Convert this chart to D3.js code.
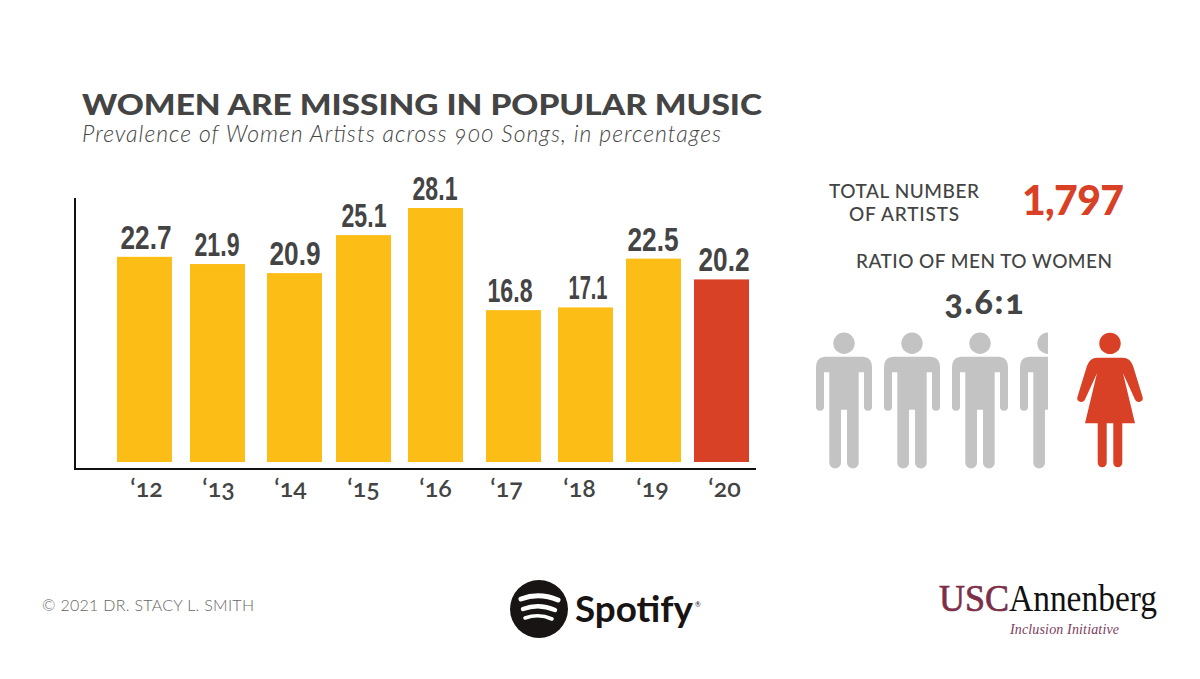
<!DOCTYPE html>
<html>
<head>
<meta charset="utf-8">
<script src="https://cdn.jsdelivr.net/npm/d3@7"></script>
<style>
html, body { margin: 0; padding: 0; background: #fff; }
svg { display: block; }
text { font-family: Lato, "Open Sans", sans-serif; fill: #444; }
.tick text { font-size: 25px; font-weight: 600; font-feature-settings: "onum"; }
</style>
</head>
<body>
<svg width="1200" height="679"></svg>
<script>
// Chart data
var years = ['12', '13', '14', '15', '16', '17', '18', '19', '20'];
var yearLabels = ['\u201812', '\u201813', '\u201814', '\u201815', '\u201816', '\u201817', '\u201818', '\u201819', '\u201820'];
var prevalence = [22.7, 21.9, 20.9, 25.1, 28.1, 16.8, 17.1, 22.5, 20.2];
var menPerWoman = 3.6;

var YELLOW = '#fdbd17';
var RED = '#d94126';
var GRAY = '#c3c3c3';

var svg = d3.select('svg');

// The bars are not evenly spaced in the original
var xScale = d3.scaleOrdinal()
    .domain(years)
    .range([117, 190, 267, 336, 408, 486, 558, 626, 694]);
var barWidth = 55;

var yScale = d3.scaleLinear()
    .domain([0, 28.1])
    .range([462, 208]);

// Tick labels and value labels sit a little off the bar centres
var xTickScale = d3.scaleOrdinal()
    .domain(years)
    .range([146, 218, 290, 363, 435, 506, 579, 652, 724]);
var valueScale = d3.scaleOrdinal()
    .domain(years)
    .range([146, 217, 295, 364, 435, 510, 588, 653, 724]);

var bars = years.map(function(y, i) { return {year: y, value: prevalence[i]}; });

svg.selectAll('.bar')
    .data(bars)
    .enter()
    .append('rect')
    .attr('class', 'bar')
    .attr('x', function(d) { return xScale(d.year); })
    .attr('y', function(d) { return yScale(d.value); })
    .attr('width', barWidth)
    .attr('height', function(d) { return yScale(0) - yScale(d.value); })
    .attr('fill', function(d) { return d.year === '20' ? RED : YELLOW; });

// The label font has a narrow 1, the narrow font here does not
function valueWidth(v) {
    var ones = v.toFixed(1).split('1').length - 1;
    return 51 - 6 * ones;
}

svg.selectAll('.value')
    .data(bars)
    .enter()
    .append('text')
    .attr('class', 'value')
    .attr('x', function(d) { return valueScale(d.year); })
    .attr('y', function(d) { return yScale(d.value) - 8; })
    .attr('text-anchor', 'middle')
    .attr('textLength', function(d) { return valueWidth(d.value); })
    .attr('lengthAdjust', 'spacingAndGlyphs')
    .style('font-family', '"Liberation Sans Narrow", "Liberation Sans"')
    .style('font-weight', 700)
    .style('font-size', '34px')
    .text(function(d) { return d.value.toFixed(1); });

// Axes
var xAxis = d3.axisBottom(xTickScale)
    .tickSize(0)
    .tickPadding(10)
    .tickFormat(function(d, i) { return yearLabels[i]; });

var xAxisG = svg.append('g')
    .attr('transform', 'translate(0,469)')
    .call(xAxis);
xAxisG.select('.domain').remove();
xAxisG.attr('font-family', null).attr('font-size', null);

svg.append('line')
    .attr('x1', 74).attr('x2', 756)
    .attr('y1', 469).attr('y2', 469)
    .attr('stroke', '#111').attr('stroke-width', 2);
svg.append('line')
    .attr('x1', 75).attr('x2', 75)
    .attr('y1', 198).attr('y2', 470)
    .attr('stroke', '#111').attr('stroke-width', 2);

// Title
svg.append('text')
    .attr('x', 82).attr('y', 115)
    .attr('textLength', 680)
    .attr('lengthAdjust', 'spacingAndGlyphs')
    .style('font-weight', 900)
    .style('font-size', '28px')
    .text('WOMEN ARE MISSING IN POPULAR MUSIC');

svg.append('text')
    .attr('x', 82).attr('y', 142)
    .attr('textLength', 639)
    .attr('lengthAdjust', 'spacing')
    .style('font-weight', 300)
    .style('font-style', 'italic')
    .style('font-size', '23px')
    .style('font-feature-settings', '"onum"')
    .text('Prevalence of Women Artists across 900 Songs, in percentages');

// Right side panel
function panelText(x, y, width, size, weight, str, color) {
    return svg.append('text')
        .attr('x', x).attr('y', y)
        .attr('text-anchor', 'middle')
        .attr('textLength', width)
        .attr('lengthAdjust', 'spacing')
        .style('font-size', size + 'px')
        .style('font-weight', weight)
        .style('fill', color || '#444')
        .text(str);
}
panelText(904, 198, 150, 19, 500, 'TOTAL NUMBER');
panelText(904, 221, 110, 19, 500, 'OF ARTISTS');
panelText(1073, 215, 102, 41, 900, '1,797', RED);
panelText(984, 268, 256, 19, 500, 'RATIO OF MEN TO WOMEN');
panelText(984, 314, 79, 34, 900, '3.6:1').style('font-feature-settings', '"onum"');

// Pictogram: one man per unit, the last one cut off at the ratio
var manPath = 'M10,0 H46 Q56,0 56,11 V50 a4,4 0 0 1 -8,0 V15.5 H42.7 V106 a5.85,5.85 0 0 1 -11.7,0 V53 H25 V106 a5.85,5.85 0 0 1 -11.7,0 V15.5 H8 V50 a4,4 0 0 1 -8,0 V11 Q0,0 10,0 Z';
var womanPath = 'M-13,0 H13 Q20,0 23,8 L32.5,39 a4,4 0 0 1 -7.6,2.5 L13,15.5 L25,65.6 H12.3 V105 a4.5,4.5 0 0 1 -9,0 V65.6 H-3.3 V105 a4.5,4.5 0 0 1 -9,0 V65.6 H-25 L-13,15.5 L-24.9,41.5 a4,4 0 0 1 -7.6,-2.5 L-23,8 Q-20,0 -13,0 Z';

var menScale = d3.scaleLinear().domain([0, 1]).range([816, 884]);
var menCount = Math.ceil(menPerWoman);
var manWidth = 56;

svg.append('clipPath').attr('id', 'menClip')
    .append('rect')
    .attr('x', 816).attr('y', 320)
    .attr('width', menScale(menCount - 1) + 28 - 816)
    .attr('height', 160);

var menG = svg.append('g').attr('clip-path', 'url(#menClip)');
var man = menG.selectAll('.man')
    .data(d3.range(menCount))
    .enter()
    .append('g')
    .attr('class', 'man')
    .attr('transform', function(d) { return 'translate(' + menScale(d) + ',356.7)'; });
man.append('circle')
    .attr('cx', manWidth / 2).attr('cy', -13.5).attr('r', 10.7)
    .attr('fill', GRAY);
man.append('path').attr('d', manPath).attr('fill', GRAY);

var woman = svg.append('g').attr('transform', 'translate(1110,357.7)');
woman.append('circle').attr('cx', 0).attr('cy', -14.3).attr('r', 10.7).attr('fill', RED);
woman.append('path').attr('d', womanPath).attr('fill', RED);

// Footer
svg.append('text')
    .attr('x', 42).attr('y', 611)
    .attr('textLength', 212)
    .attr('lengthAdjust', 'spacing')
    .style('font-weight', 300)
    .style('font-size', '16px')
    .style('fill', '#666')
    .text('\u00a9 2021 DR. STACY L. SMITH');

// Spotify logo
var spotify = svg.append('g');
spotify.append('circle').attr('cx', 539).attr('cy', 609).attr('r', 29).attr('fill', '#191414');
var arcs = [
    {d: 'M521,599 Q539,592 558,600', w: 5},
    {d: 'M523,609 Q539,603 555,610', w: 4.4},
    {d: 'M525,618 Q539,613 552,619', w: 3.6}
];
spotify.selectAll('.arc')
    .data(arcs)
    .enter()
    .append('path')
    .attr('d', function(d) { return d.d; })
    .attr('fill', 'none')
    .attr('stroke', '#fff')
    .attr('stroke-width', function(d) { return d.w; })
    .attr('stroke-linecap', 'round');
spotify.append('text')
    .attr('x', 575).attr('y', 622)
    .attr('textLength', 118)
    .attr('lengthAdjust', 'spacingAndGlyphs')
    .style('font-weight', 700)
    .style('font-size', '37px')
    .style('fill', '#191414')
    .text('Spotify');
spotify.append('text')
    .attr('x', 695).attr('y', 607)
    .style('font-size', '7px')
    .style('fill', '#191414')
    .text('\u00ae');

// USC Annenberg logo
var usc = svg.append('g');
usc.append('text')
    .attr('x', 939).attr('y', 611)
    .attr('textLength', 70)
    .attr('lengthAdjust', 'spacingAndGlyphs')
    .style('font-family', '"Liberation Serif", serif')
    .style('font-size', '38px')
    .style('fill', '#7c2f48')
    .style('stroke', '#7c2f48')
    .style('stroke-width', 0.7)
    .text('USC');
usc.append('text')
    .attr('x', 1009).attr('y', 611)
    .attr('textLength', 148)
    .attr('lengthAdjust', 'spacingAndGlyphs')
    .style('font-family', '"Liberation Serif", serif')
    .style('font-size', '37px')
    .style('fill', '#111')
    .text('Annenberg');
usc.append('text')
    .attr('x', 1010).attr('y', 634)
    .attr('textLength', 109)
    .attr('lengthAdjust', 'spacing')
    .style('font-family', '"Liberation Serif", serif')
    .style('font-style', 'italic')
    .style('font-size', '14px')
    .style('fill', '#7c3d5e')
    .text('Inclusion Initiative');
</script>
</body>
</html>
